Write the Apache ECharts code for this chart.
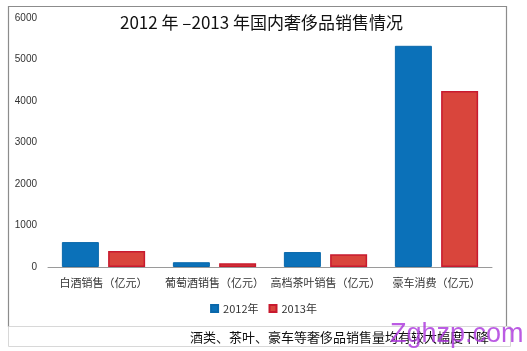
<!DOCTYPE html>
<html><head><meta charset="utf-8">
<script src="https://cdn.jsdelivr.net/npm/echarts@6/dist/echarts.min.js"></script>
<style>html,body{margin:0;padding:0;background:#fff}#c{width:527px;height:351px}</style>
</head><body><div id="c"></div>
<script>
const categories = ['白酒销售（亿元）','葡萄酒销售（亿元）','高档茶叶销售（亿元）','豪车消费（亿元）'];
const values2012 = [600, 115, 360, 5330];
const values2013 = [385, 90, 305, 4240];
const seriesNames = ['2012年','2013年'];
const yTicks = {min:0, max:6000, interval:1000};
const titleText = '2012 年 –2013 年国内奢侈品销售情况';
const captionText = '酒类、茶叶、豪车等奢侈品销售量均有较大幅度下降';
const watermark = 'Zghzp.com';

const font = '"Noto Sans CJK SC", "Liberation Sans", sans-serif';
const chart = echarts.init(document.getElementById('c'), null, {renderer:'canvas'});
chart.setOption({
  animation:false,
  backgroundColor:'#fff',
  title:{text:titleText, left:115, top:9, itemGap:0,
    textStyle:{fontSize:17, fontWeight:'normal', color:'#111', fontFamily:font}},
  legend:{data:seriesNames, bottom:32, left:'center', itemWidth:7, itemHeight:7, itemGap:10,
    icon:'rect', textStyle:{fontSize:11, color:'#333', fontFamily:font}},
  grid:{left:48, right:35, top:18, bottom:84},
  xAxis:{type:'category', data:categories,
    axisLine:{lineStyle:{color:'#9a9a9a'}}, axisTick:{show:false},
    axisLabel:{fontSize:11, color:'#333', margin:10, fontFamily:font, interval:0}},
  yAxis:{type:'value', min:yTicks.min, max:yTicks.max, interval:yTicks.interval,
    axisLine:{show:false}, axisTick:{show:false}, splitLine:{show:false},
    axisLabel:{fontSize:10, color:'#333', margin:11, fontFamily:'"Liberation Sans", sans-serif',
      formatter:v => String(v)}},
  series:[
    {name:seriesNames[0], type:'bar', data:values2012, barWidth:37, barGap:'25%',
      itemStyle:{color:'#0b71b9', borderColor:'#0a68ab', borderWidth:1}},
    {name:seriesNames[1], type:'bar', data:values2013, barWidth:37,
      itemStyle:{color:'#d9453c', borderColor:'#c81a2e', borderWidth:1.5}}
  ],
  graphic:[
    {type:'rect', shape:{x:8.5, y:6.5, width:498, height:320}, silent:true, z:-1,
      style:{fill:null, stroke:'#8c8c8c', lineWidth:1.2}},
    {type:'rect', shape:{x:8.5, y:326.5, width:502, height:20}, silent:true, z:-1,
      style:{fill:null, stroke:'#d8d8d8', lineWidth:1}},
    {type:'text', left:190, top:331, style:{text:captionText, fontSize:13, fill:'#111', fontFamily:font}},
    {type:'text', left:390, top:321, style:{text:watermark, fontSize:27, fill:'rgba(170,50,220,0.8)', fontFamily:'"Liberation Sans", sans-serif'}}
  ]
});
</script></body></html>
